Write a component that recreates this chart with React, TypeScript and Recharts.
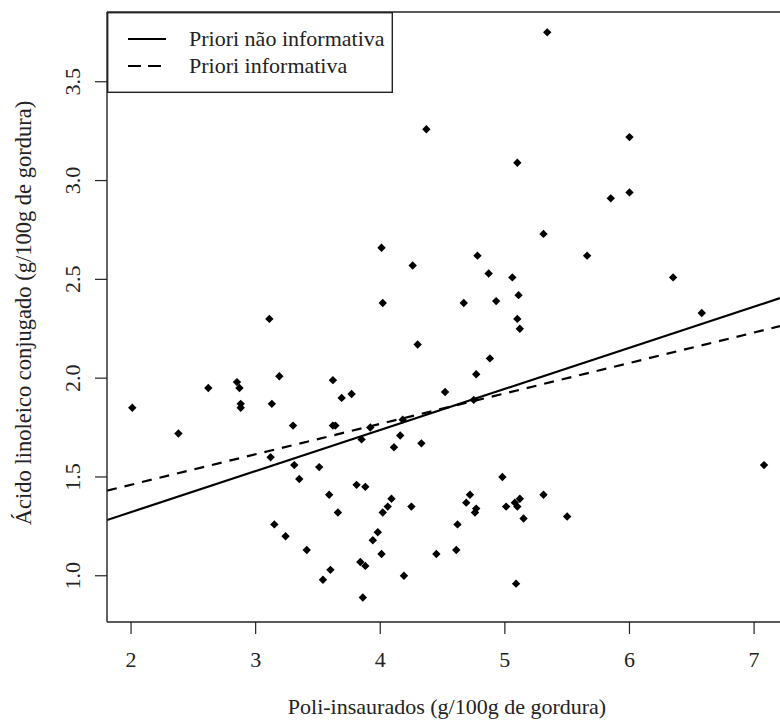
import { ComposedChart, Scatter, Line, XAxis, YAxis, ReferenceLine, Legend } from "recharts";

const FONT = "Liberation Serif, Times New Roman, serif";

const xTicks = [2, 3, 4, 5, 6, 7];
const yTicks = [1.0, 1.5, 2.0, 2.5, 3.0, 3.5];
const xDomain = [1.807, 7.208];
const yDomain = [0.766, 3.853];

// Poli-insaurados (x) e Ácido linoleico conjugado (y)
const poli = [
  5.34, 4.37, 5.10, 5.31, 4.01, 4.26, 4.78, 5.66, 4.87, 5.06, 5.11, 4.02, 4.67, 4.93, 5.10, 5.12,
  4.30, 4.88, 4.77, 4.52, 3.77, 3.85, 4.16, 4.11, 4.33, 4.98, 3.81, 3.88, 4.09, 4.06, 4.02, 4.25,
  4.72, 4.69, 4.77, 4.76, 4.62, 5.01, 5.08, 5.12, 5.10, 5.15, 5.31, 5.50, 3.98, 3.94, 4.01, 4.45,
  4.61, 3.84, 3.88, 4.19, 5.09, 3.86, 2.01, 2.38, 2.62, 2.85, 2.87, 2.88, 2.88, 3.19, 3.13, 3.62,
  3.69, 3.30, 3.62, 3.64, 3.12, 3.31, 3.35, 3.51, 3.59, 3.66, 3.15, 3.24, 3.41, 3.60, 3.54, 3.11,
  6.00, 5.85, 6.00, 6.35, 6.58, 7.08, 3.92, 4.18, 4.75,
];
const acido = [
  3.75, 3.26, 3.09, 2.73, 2.66, 2.57, 2.62, 2.62, 2.53, 2.51, 2.42, 2.38, 2.38, 2.39, 2.30, 2.25,
  2.17, 2.10, 2.02, 1.93, 1.92, 1.69, 1.71, 1.65, 1.67, 1.50, 1.46, 1.45, 1.39, 1.35, 1.32, 1.35,
  1.41, 1.37, 1.34, 1.32, 1.26, 1.35, 1.37, 1.39, 1.35, 1.29, 1.41, 1.30, 1.22, 1.18, 1.11, 1.11,
  1.13, 1.07, 1.05, 1.00, 0.96, 0.89, 1.85, 1.72, 1.95, 1.98, 1.95, 1.87, 1.85, 2.01, 1.87, 1.99,
  1.90, 1.76, 1.76, 1.76, 1.60, 1.56, 1.49, 1.55, 1.41, 1.32, 1.26, 1.20, 1.13, 1.03, 0.98, 2.30,
  3.22, 2.91, 2.94, 2.51, 2.33, 1.56, 1.75, 1.79, 1.89,
];

// extremos das retas ajustadas
const lineX = [1.807, 7.208];
const naoInformativa = [1.282, 2.405];
const informativa = [1.431, 2.263];

const points = poli.map((x, i) => ({ x, y: acido[i] }));
const solidData = lineX.map((x, i) => ({ x, y: naoInformativa[i] }));
const dashedData = lineX.map((x, i) => ({ x, y: informativa[i] }));

const txt = { fontFamily: FONT };

const Diamond = (props: any) => {
  const { cx, cy } = props;
  if (cx == null || cy == null) return null;
  const r = 4.2;
  return <polygon points={`${cx},${cy - r} ${cx + r},${cy} ${cx},${cy + r} ${cx - r},${cy}`} fill="#000" />;
};

const XTick = ({ x, y, payload }: any) => (
  <text x={x} y={y + 33} textAnchor="middle" fontSize={22} fill="#222" style={txt}>
    {payload.value}
  </text>
);

const YTick = ({ x, y, payload }: any) => (
  <text
    x={x - 15}
    y={y}
    textAnchor="middle"
    fontSize={22}
    fill="#222"
    style={txt}
    transform={`rotate(-90, ${x - 15}, ${y})`}
  >
    {Number(payload.value).toFixed(1)}
  </text>
);

const LegendBox = () => (
  <svg width={286} height={81} style={{ display: "block" }}>
    <rect x={0.7} y={0.7} width={284.6} height={79.6} fill="#fff" stroke="#222" strokeWidth={1.4} />
    <line x1={21} x2={59} y1={27} y2={27} stroke="#000" strokeWidth={2.2} />
    <text x={82} y={34} fontSize={22} fill="#222" style={txt}>Priori não informativa</text>
    <line x1={21} x2={54} y1={54} y2={54} stroke="#000" strokeWidth={2.2} strokeDasharray="13 7" />
    <text x={82} y={61} fontSize={22} fill="#222" style={txt}>Priori informativa</text>
  </svg>
);

export default function App() {
  return (
    <div style={{ position: "absolute", left: 0, top: 0, width: 780, height: 725, background: "#fff" }}>
      <ComposedChart width={780} height={725} margin={{ top: 12, right: 0, bottom: 0, left: 0 }}>
        <XAxis
          type="number"
          dataKey="x"
          domain={xDomain}
          ticks={xTicks}
          allowDataOverflow
          height={103}
          tickSize={12}
          tickMargin={0}
          axisLine={{ stroke: "#222", strokeWidth: 1.4 }}
          tickLine={{ stroke: "#222", strokeWidth: 1.2 }}
          tick={<XTick />}
        />
        <YAxis
          type="number"
          dataKey="y"
          domain={yDomain}
          ticks={yTicks}
          allowDataOverflow
          width={107}
          tickSize={12}
          tickMargin={0}
          axisLine={{ stroke: "#222", strokeWidth: 1.4 }}
          tickLine={{ stroke: "#222", strokeWidth: 1.2 }}
          tick={<YTick />}
        />
        <ReferenceLine y={yDomain[1]} stroke="#222" strokeWidth={1.4} />
        <Scatter data={points} dataKey="y" shape={<Diamond />} isAnimationActive={false} />
        <Line
          data={solidData}
          dataKey="y"
          type="linear"
          name="Priori não informativa"
          stroke="#000"
          strokeWidth={2.2}
          dot={false}
          activeDot={false}
          isAnimationActive={false}
        />
        <Line
          data={dashedData}
          dataKey="y"
          type="linear"
          name="Priori informativa"
          stroke="#000"
          strokeWidth={2.2}
          strokeDasharray="10 8"
          dot={false}
          activeDot={false}
          isAnimationActive={false}
        />
        <Legend
          layout="vertical"
          align="center"
          verticalAlign="middle"
          wrapperStyle={{ position: "absolute", left: 107, top: 12, width: 286, height: 81 }}
          content={() => <LegendBox />}
        />
        <text x={447} y={714} textAnchor="middle" fontSize={22} fill="#222" style={txt}>
          Poli-insaurados (g/100g de gordura)
        </text>
        <text
          x={31}
          y={313}
          textAnchor="middle"
          fontSize={22.5}
          fill="#222"
          style={txt}
          transform="rotate(-90, 31, 313)"
        >
          Ácido linoleico conjugado (g/100g de gordura)
        </text>
      </ComposedChart>
    </div>
  );
}
